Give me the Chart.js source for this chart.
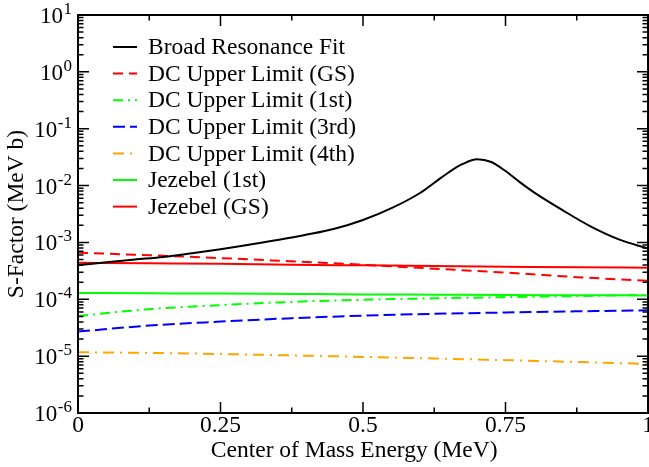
<!DOCTYPE html>
<html>
<head>
<meta charset="utf-8">
<script src="https://cdn.jsdelivr.net/npm/chart.js@4/dist/chart.umd.min.js"></script>
<style>
  html, body { margin: 0; padding: 0; background: #fff; }
  #wrap { width: 649px; height: 467px; }
</style>
</head>
<body>
<div id="wrap"><canvas id="chart" width="649" height="467"></canvas></div>
<script>
// Broad resonance fit (energy in MeV, S-factor in MeV b)
const fitEnergy = [0, 0.05, 0.1, 0.15, 0.2, 0.25, 0.3, 0.35, 0.4, 0.45, 0.5, 0.55, 0.6, 0.625,
  0.65, 0.675, 0.7, 0.725, 0.75, 0.775, 0.8, 0.85, 0.9, 0.95, 1];
const fitSFactor = [4.0e-4, 4.47e-4, 5.0e-4, 5.55e-4, 6.45e-4, 7.6e-4, 9.1e-4, 1.1e-3, 1.36e-3,
  1.74e-3, 2.48e-3, 4.0e-3, 7.4e-3, 1.12e-2, 1.7e-2, 2.4e-2, 2.9e-2, 2.6e-2, 1.8e-2, 1.15e-2,
  7.6e-3, 3.7e-3, 1.9e-3, 1.12e-3, 7.8e-4];

// upper limits and Jezebel curves share one energy grid
const limitEnergy = [0, 0.125, 0.25, 0.375, 0.5, 0.625, 0.75, 0.875, 1];
const dcGS = [6.6e-4, 5.95e-4, 5.3e-4, 4.65e-4, 4.05e-4, 3.45e-4, 2.95e-4, 2.45e-4, 2.12e-4];
const dc1st = [5.1e-5, 6.7e-5, 7.9e-5, 9.0e-5, 9.8e-5, 1.04e-4, 1.09e-4, 1.14e-4, 1.19e-4];
const dc3rd = [2.7e-5, 3.45e-5, 4.05e-5, 4.65e-5, 5.15e-5, 5.55e-5, 5.85e-5, 6.15e-5, 6.4e-5];
const dc4th = [1.17e-5, 1.14e-5, 1.09e-5, 1.03e-5, 9.7e-6, 9.1e-6, 8.5e-6, 7.9e-6, 7.3e-6];
const jezebel1st = [1.29e-4, 1.275e-4, 1.26e-4, 1.24e-4, 1.22e-4, 1.205e-4, 1.19e-4, 1.18e-4, 1.17e-4];
const jezebelGS = [4.4e-4, 4.3e-4, 4.2e-4, 4.05e-4, 3.95e-4, 3.85e-4, 3.75e-4, 3.65e-4, 3.6e-4];

// axis ticks
const xMajorTicks = [0, 0.25, 0.5, 0.75, 1];
const xMinorTicks = [0.125, 0.375, 0.625, 0.875];
const yDecades = [-6, -5, -4, -3, -2, -1, 0, 1];
const yMinorSteps = [2, 3, 4, 5, 6, 7, 8, 9];

const FONT = 'Liberation Serif, Times New Roman, serif';

const pts = (xs, ys) => xs.map((x, i) => ({ x, y: ys[i] }));

function line(label, xs, ys, color, dash) {
  return {
    label,
    data: pts(xs, ys),
    borderColor: color,
    backgroundColor: color,
    borderWidth: 2,
    borderDash: dash || [],
    pointRadius: 0,
    cubicInterpolationMode: 'monotone',
    fill: false
  };
}

const datasets = [
  line('Broad Resonance Fit', fitEnergy, fitSFactor, '#000000'),
  line('DC Upper Limit (GS)', limitEnergy, dcGS, '#ff0000', [10, 6]),
  line('DC Upper Limit (1st)', limitEnergy, dc1st, '#00ff00', [10, 5, 2, 5]),
  line('DC Upper Limit (3rd)', limitEnergy, dc3rd, '#0000ff', [12, 5]),
  line('DC Upper Limit (4th)', limitEnergy, dc4th, '#ffa500', [11, 6, 2, 6]),
  line('Jezebel (1st)', limitEnergy, jezebel1st, '#00ff00'),
  line('Jezebel (GS)', limitEnergy, jezebelGS, '#ff0000')
];

// frame, inward ticks, superscript y labels and in-plot legend
const decorations = {
  id: 'decorations',
  afterDatasetsDraw(chart) {
    const { ctx, chartArea: a, scales: { x, y } } = chart;
    ctx.save();
    ctx.strokeStyle = '#000';
    ctx.lineWidth = 1.5;
    ctx.beginPath();
    const tickX = (v, len) => {
      const px = x.getPixelForValue(v);
      ctx.moveTo(px, a.bottom); ctx.lineTo(px, a.bottom - len);
      ctx.moveTo(px, a.top); ctx.lineTo(px, a.top + len);
    };
    const tickY = (v, len) => {
      const py = y.getPixelForValue(v);
      ctx.moveTo(a.left, py); ctx.lineTo(a.left + len, py);
      ctx.moveTo(a.right, py); ctx.lineTo(a.right - len, py);
    };
    xMajorTicks.forEach(v => tickX(v, 11));
    xMinorTicks.forEach(v => tickX(v, 5.5));
    yDecades.forEach(k => tickY(Math.pow(10, k), 11));
    yDecades.slice(0, -1).forEach(k => yMinorSteps.forEach(m => tickY(m * Math.pow(10, k), 5.5)));
    ctx.stroke();

    ctx.lineWidth = 2;
    ctx.strokeRect(a.left, a.top, a.right - a.left, a.bottom - a.top);

    // legend
    const items = Chart.defaults.plugins.legend.labels.generateLabels(chart);
    ctx.font = '23.5px ' + FONT;
    ctx.textBaseline = 'middle';
    ctx.textAlign = 'left';
    items.forEach((it, i) => {
      const cy = 47 + i * 26.6;
      ctx.strokeStyle = it.strokeStyle;
      ctx.lineWidth = 2;
      ctx.setLineDash(it.lineDash || []);
      ctx.beginPath();
      ctx.moveTo(113, cy); ctx.lineTo(137, cy);
      ctx.stroke();
      ctx.setLineDash([]);
      ctx.fillStyle = '#000';
      ctx.fillText(it.text, 148, cy + 1);
    });
    ctx.restore();
  },
  afterDraw(chart) {
    const { ctx, scales: { y } } = chart;
    ctx.save();
    ctx.fillStyle = '#000';
    ctx.textBaseline = 'alphabetic';
    ctx.textAlign = 'left';
    yDecades.forEach(k => {
      const py = y.getPixelForValue(Math.pow(10, k));
      const sup = String(k);
      ctx.font = '17px ' + FONT;
      const sw = ctx.measureText(sup).width;
      const supX = 72 - sw;
      ctx.fillText(sup, supX, py - 1);
      ctx.font = '23px ' + FONT;
      const bw = ctx.measureText('10').width;
      ctx.fillText('10', supX - bw - 0.5, py + 8);
    });
    ctx.restore();
  }
};

new Chart(document.getElementById('chart'), {
  type: 'line',
  data: { datasets },
  options: {
    responsive: false,
    animation: false,
    layout: { padding: { top: 15, right: 1, left: 0, bottom: 0 }, autoPadding: false },
    plugins: { legend: { display: false }, tooltip: { enabled: false } },
    scales: {
      x: {
        type: 'linear',
        min: 0,
        max: 1,
        grid: { display: false, drawTicks: false },
        border: { display: false },
        ticks: {
          stepSize: 0.25,
          color: '#000',
          padding: 1,
          maxRotation: 0,
          autoSkip: false,
          callback: (v) => (xMajorTicks.includes(v) ? String(v) : ''),
          font: { family: FONT, size: 23.5, lineHeight: 1 }
        },
        title: {
          display: true,
          // trailing no-break spaces nudge the centred title a little left, as in the original
          text: 'Center of Mass Energy (MeV)\u00a0\u00a0\u00a0',
          color: '#000',
          padding: { top: 0, bottom: 2 },
          font: { family: FONT, size: 23.5 }
        },
        afterFit(scale) {
          scale.height = 54;
          scale.paddingLeft = 0;
          scale.paddingRight = 0;
        }
      },
      y: {
        type: 'logarithmic',
        min: 1e-6,
        max: 10,
        grid: { display: false, drawTicks: false },
        border: { display: false },
        ticks: { callback: () => '' },
        title: {
          display: true,
          text: 'S-Factor (MeV b)',
          color: '#000',
          padding: { top: 3, bottom: 0 },
          font: { family: FONT, size: 23.5 }
        },
        afterFit(scale) {
          scale.width = 78;
          scale.paddingTop = 0;
          scale.paddingBottom = 0;
        }
      }
    }
  },
  plugins: [decorations]
});
</script>
</body>
</html>
